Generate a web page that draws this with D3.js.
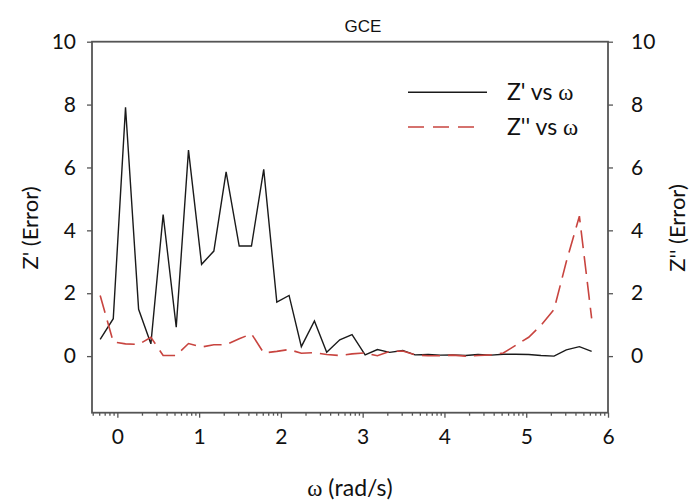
<html>
<script src="https://d3js.org/d3.v7.min.js"></script>

<div id="chart"></div>

<style>
body { margin: 0; background: white; }
.tick-lab { font-family: Lato, "Open Sans", sans-serif; font-size: 21px; fill: #111; }
</style>

<script>

// log10 of omega
var logW = [-0.21, -0.05, 0.10, 0.26, 0.41, 0.56, 0.72, 0.87, 1.03, 1.18,
            1.33, 1.49, 1.64, 1.79, 1.95, 2.10, 2.25, 2.41, 2.56, 2.72,
            2.87, 3.03, 3.18, 3.33, 3.49, 3.64, 3.80, 3.95, 4.10, 4.26,
            4.41, 4.57, 4.72, 4.87, 5.03, 5.18, 5.34, 5.49, 5.65, 5.80];

var zReal = [0.53, 1.19, 7.91, 1.49, 0.39, 4.50, 0.92, 6.55, 2.92, 3.34,
             5.86, 3.50, 3.50, 5.94, 1.72, 1.93, 0.30, 1.12, 0.12, 0.52,
             0.68, 0.04, 0.21, 0.12, 0.18, 0.04, 0.05, 0.03, 0.04, 0.02,
             0.05, 0.03, 0.06, 0.06, 0.05, 0.02, 0.00, 0.20, 0.30, 0.15];

var zImag = [1.93, 0.45, 0.39, 0.37, 0.60, 0.02, 0.02, 0.40, 0.29, 0.36,
             0.36, 0.55, 0.71, 0.10, 0.15, 0.21, 0.09, 0.11, 0.05, 0.02,
             0.07, 0.10, 0.01, 0.15, 0.16, 0.04, 0.01, 0.01, 0.03, 0.00,
             0.02, 0.04, 0.10, 0.34, 0.60, 0.98, 1.48, 3.00, 4.45, 1.20];

var xTicks = [0, 1, 2, 3, 4, 5, 6];
var yTicks = [0, 2, 4, 6, 8, 10];
var seriesNames = ["Z' vs ", "Z'' vs "];

var pLeft = 92, pRight = 608, pTop = 41.7, pBottom = 412.7;
var axisColor = "#555";

var svg = d3.select("#chart")
  .append("svg")
    .attr("width", 691)
    .attr("height", 500)
    .style("display", "block");

var x = d3.scaleLinear()
  .domain([-0.31, 6])
  .range([pLeft, pRight]);

var y = d3.scaleLinear()
  .domain([-1.8, 10])
  .range([pBottom, pTop]);

// minor ticks, log spaced inside each decade
var minor = [];
d3.range(5, 10).forEach(function(k) { minor.push(Math.log10(k / 10)); });
d3.range(0, 6).forEach(function(d) {
  d3.range(2, 10).forEach(function(k) { minor.push(d + Math.log10(k)); });
});

var xAxisMinor = d3.axisBottom(x).tickValues(minor).tickSize(3).tickFormat("");
var xAxis = d3.axisBottom(x).tickValues(xTicks).tickSize(5).tickPadding(11).tickFormat(d3.format("d"));
var yLeft = d3.axisLeft(y).tickValues(yTicks).tickSize(5).tickPadding(11);
var yRight = d3.axisRight(y).tickValues(yTicks).tickSize(5).tickPadding(18);

svg.append("g").attr("transform", "translate(0," + pBottom + ")").call(xAxisMinor);
svg.append("g").attr("transform", "translate(0," + pBottom + ")").call(xAxis);
svg.append("g").attr("transform", "translate(" + pLeft + ",0)").call(yLeft);
svg.append("g").attr("transform", "translate(" + pRight + ",0)").call(yRight);

svg.selectAll(".domain").remove();
svg.selectAll(".tick line").attr("stroke", axisColor).attr("stroke-width", 1.3);
svg.selectAll(".tick text").attr("class", "tick-lab").attr("fill", "#111");

// frame
svg.append("rect")
  .attr("x", pLeft)
  .attr("y", pTop)
  .attr("width", pRight - pLeft)
  .attr("height", pBottom - pTop)
  .attr("fill", "none")
  .attr("stroke", axisColor)
  .attr("stroke-width", 1.8);

var lineXY = d3.line()
  .x(function(d, i) { return x(logW[i]); })
  .y(function(d) { return y(d); });

svg.append("path")
  .datum(zReal)
  .attr("d", lineXY)
  .attr("fill", "none")
  .attr("stroke", "#1a1a1a")
  .attr("stroke-width", 1.4);

svg.append("path")
  .datum(zImag)
  .attr("d", lineXY)
  .attr("fill", "none")
  .attr("stroke", "#c8443f")
  .attr("stroke-width", 1.6)
  .attr("stroke-dasharray", "18,8");

// legend
var legY = [92.3, 127];
svg.append("line")
  .attr("x1", 408).attr("x2", 487)
  .attr("y1", legY[0]).attr("y2", legY[0])
  .attr("stroke", "#1a1a1a").attr("stroke-width", 1.4);
svg.append("line")
  .attr("x1", 408).attr("x2", 481)
  .attr("y1", legY[1]).attr("y2", legY[1])
  .attr("stroke", "#c8443f").attr("stroke-width", 1.6)
  .attr("stroke-dasharray", "16,9");

seriesNames.forEach(function(s, i) {
  var t = svg.append("text")
    .attr("x", 507)
    .attr("y", legY[i] + 8)
    .style("font-family", "Lato, 'Open Sans', sans-serif")
    .style("font-size", "23px")
    .style("fill", "#111");
  t.append("tspan").text(s);
  t.append("tspan").style("font-family", "'Liberation Serif', serif").text("\u03c9");
});

// title
svg.append("text")
  .attr("x", 363)
  .attr("y", 32)
  .attr("text-anchor", "middle")
  .style("font-family", "'Liberation Sans', Arial, sans-serif")
  .style("font-size", "17px")
  .style("fill", "#111")
  .text("GCE");

// axis titles
var xt = svg.append("text")
  .attr("x", 350)
  .attr("y", 496)
  .attr("text-anchor", "middle")
  .style("font-family", "Lato, 'Open Sans', sans-serif")
  .style("font-size", "23px")
  .style("fill", "#111");
xt.append("tspan").style("font-family", "'Liberation Serif', serif").text("\u03c9");
xt.append("tspan").text(" (rad/s)");

svg.append("text")
  .attr("transform", "translate(38,228) rotate(-90)")
  .attr("text-anchor", "middle")
  .style("font-family", "Lato, 'Open Sans', sans-serif")
  .style("font-size", "22px")
  .style("fill", "#111")
  .text("Z' (Error)");

svg.append("text")
  .attr("transform", "translate(685,228) rotate(-90)")
  .attr("text-anchor", "middle")
  .style("font-family", "Lato, 'Open Sans', sans-serif")
  .style("font-size", "22px")
  .style("fill", "#111")
  .text("Z'' (Error)");

</script>
</html>
